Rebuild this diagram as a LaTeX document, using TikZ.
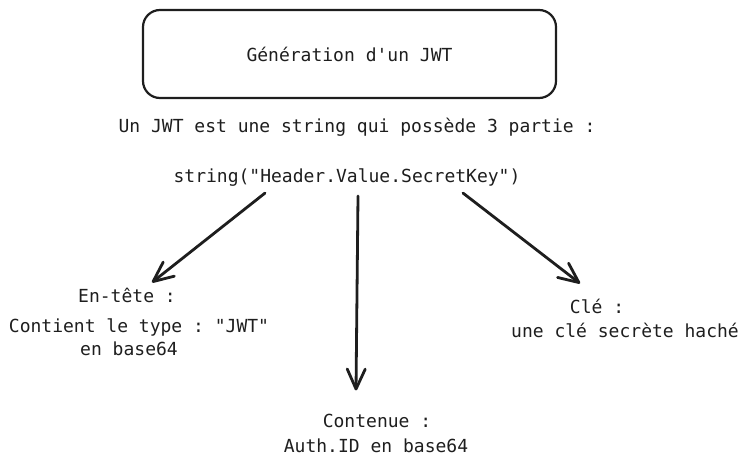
\documentclass[tikz,border=0pt]{standalone}
\usepackage{fontspec}
\setmonofont{DejaVu Sans Mono}
\usepackage{xcolor}
\usetikzlibrary{arrows.meta}
\usetikzlibrary{calc}

\definecolor{ink}{HTML}{1E1E1E}

\tikzset{
	txt/.style={font=\ttfamily\fontsize{18}{25}\selectfont, text=ink, inner sep=0pt, anchor=base},
	titlebox/.style={draw=ink, line width=2.2pt, rounded corners=17pt, minimum width=413pt, minimum height=88pt, font=\ttfamily\fontsize{18}{25}\selectfont, text=ink},
	link/.style={draw=ink, line width=2.8pt, line cap=round, -{Straight Barb[length=20pt,width=18pt,line width=2.8pt,round]}}
}

\begin{document}
\begin{tikzpicture}[x=1pt,y=-1pt]
	
	\useasboundingbox (0,0) rectangle (751,469);
	
	\node [titlebox] (title) at (349.5,54) {Génération d'un JWT};
	
	\node [txt] (intro) at (357,132) {Un JWT est une string qui possède 3 partie :};
	
	\node [txt] (jwt) at (347,182) {string("Header.Value.SecretKey")};
	
	% en-tete
	\node [txt] (hdr) at (127,302) {En-tête :};
	\node [txt] (hdrA) at (139,332) {Contient le type : "JWT"};
	\node [txt] (hdrB) at (129,355) {en base64};
	
	% contenu
	\node [txt] (cont) at (377,427) {Contenue :};
	\node [txt] (contA) at (376,452) {Auth.ID en base64};
	
	% cle
	\node [txt] (key) at (597,313) {Clé :};
	\node [txt] (keyA) at (625,337) {une clé secrète haché};
	
	\draw [link] ($(jwt.south)+(-82,7)$) -- ($(hdr.north)+(25,-5)$);
	
	\draw [link] ($(jwt.south)+(11,10)$) -- ($(cont.north)+(-21,-23)$);
	
	\draw [link] ($(jwt.south)+(116,7)$) -- ($(key.north)+(-17,-15)$);
	
\end{tikzpicture}
\end{document}
